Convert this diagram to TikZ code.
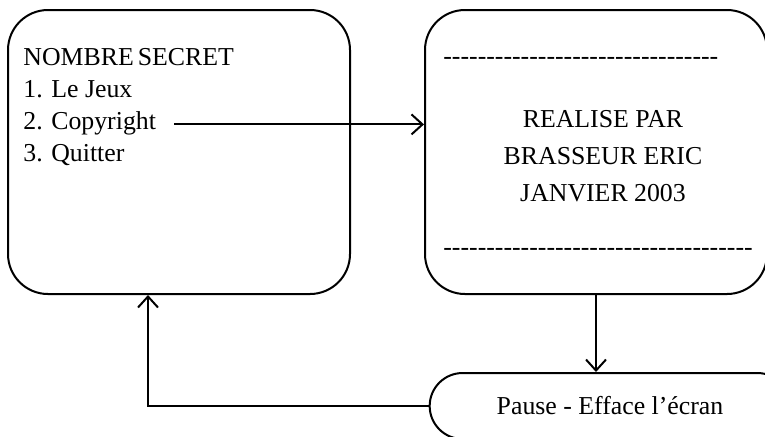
\documentclass[tikz,border=0pt]{standalone}
\usepackage{fontspec}
\setmainfont{Liberation Serif}
\usepackage{tikz}
\usetikzlibrary{arrows.meta, positioning, shapes.misc}
\newcommand{\tirets}[1]{\foreach \i in {1,...,#1}{-\kern0pt}}
\tikzset{
	ecran/.style    ={rectangle, rounded corners=20pt, draw=black, line width=1pt, minimum width=171pt, minimum height=142pt, inner sep=0pt},
	pausebox/.style ={rounded rectangle, draw=black, line width=1pt, minimum width=187pt, minimum height=33pt, align=center},
	ligne/.style    ={anchor=base west, inner sep=0pt},
	fleche/.style   ={-{Straight Barb[length=5.5pt, width=10pt]}, line width=1pt},
}
\begin{document}
\begin{tikzpicture}[font=\fontsize{12.9}{15}\selectfont, x=0.5pt, y=-0.5pt]
	\useasboundingbox (0,0) rectangle (765,436);
	% menu principal
	\node[ecran] (menu) at (179,152) {};
	\node[ligne] (titre) at (23,65) {NOMBRE\kern2pt SECRET};
	\node[ligne] (jeu) at (23,97) {1. Le Jeux};
	\node[ligne] (copy) at (23,129) {2. Copyright};
	\node[ligne] (quit) at (23,161) {3. Quitter};
	% ecran copyright
	\node[ecran] (credits) at (596,152) {};
	\node[ligne] (haut) at (443,64) {\tirets{32}};
	\node[ligne] (bas) at (443,255) {\tirets{36}};
	\node[align=center, font=\fontsize{12.9}{18.5}\selectfont] (auteur) at (603,156) {REALISE PAR\\BRASSEUR ERIC\\JANVIER 2003};
	% pause
	\node[pausebox] (pause) at (610,406) {Pause - Efface l’écran};
	\draw[fleche] ([xshift=9pt]copy.east |- copy.mid) -- (copy.mid -| credits.west);
	\draw[fleche] (credits.south) -- (credits.south |- pause.north);
	\draw[fleche] (pause.west) -| ([xshift=-15.5pt]menu.south);
\end{tikzpicture}
\end{document}
